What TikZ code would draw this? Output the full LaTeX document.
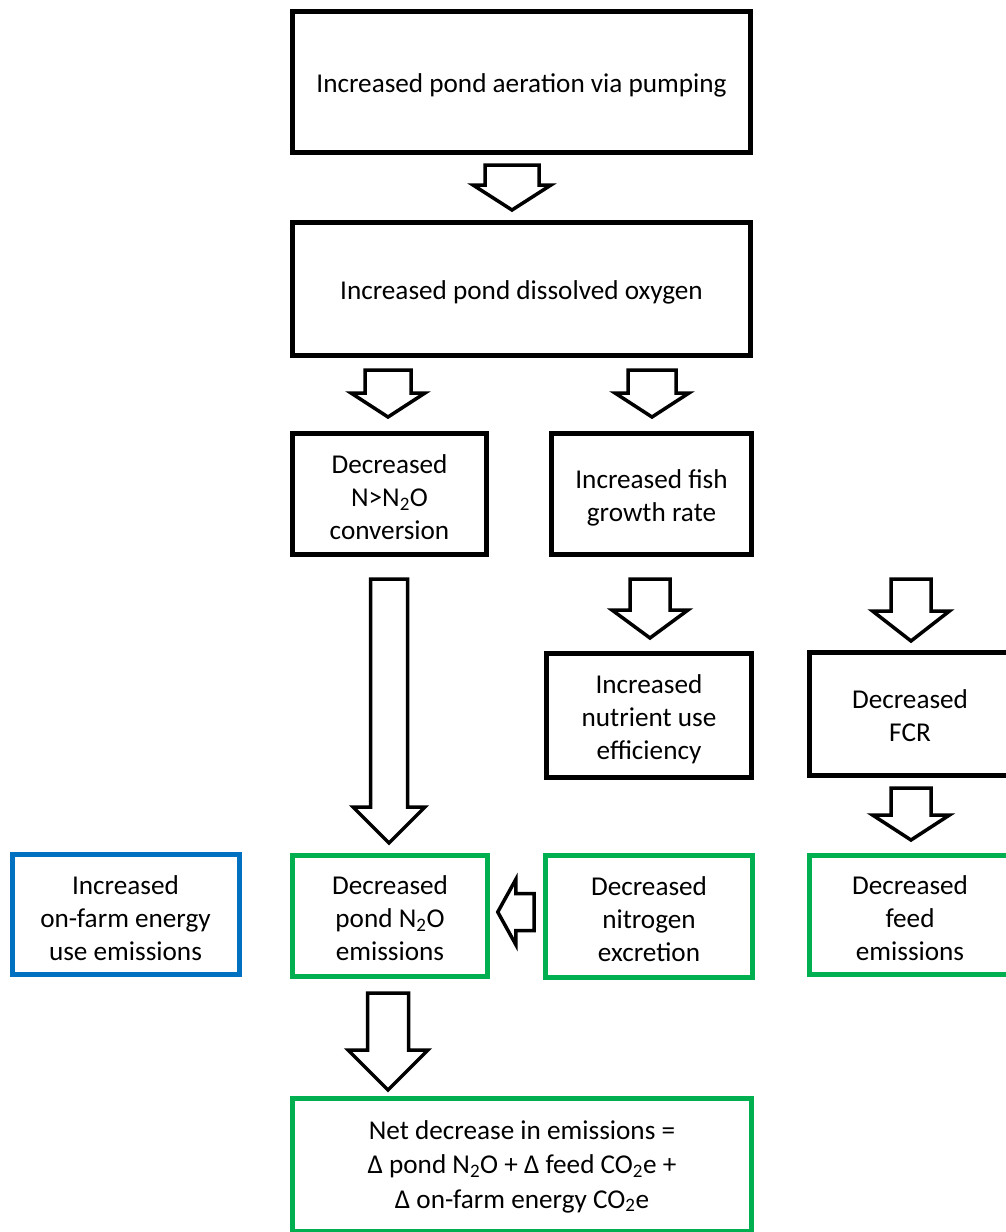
\documentclass[tikz,border=0pt]{standalone}
\usepackage{fontspec}
\setmainfont{Carlito}
\usetikzlibrary{calc}
\definecolor{boxgreen}{HTML}{00B050}
\definecolor{boxblue}{HTML}{0070C0}

% hollow block arrow pointing down: top of stem, tip, stem half-width, head half-width, head length
\newcommand\downblock[5]{%
  \draw[blockarrow] ($(#1)+(-#3,0)$) -- ($(#2)+(-#3,-#5)$) -- ($(#2)+(-#4,-#5)$) -- (#2)
    -- ($(#2)+(#4,-#5)$) -- ($(#2)+(#3,-#5)$) -- ($(#1)+(#3,0)$) -- cycle;}
% hollow block arrow pointing left: end of stem, tip, stem half-width, head half-width, head length
\newcommand\leftblock[5]{%
  \draw[blockarrow] ($(#1)+(0,-#3)$) -- ($(#2)+(#5,-#3)$) -- ($(#2)+(#5,-#4)$) -- (#2)
    -- ($(#2)+(#5,#4)$) -- ($(#2)+(#5,#3)$) -- ($(#1)+(0,#3)$) -- cycle;}

\tikzset{
  flowbox/.style={rectangle, draw, line width=5pt, fill=white, inner sep=0pt},
  blackbox/.style={flowbox, draw=black},
  greenbox/.style={flowbox, draw=boxgreen},
  bluebox/.style={flowbox, draw=boxblue},
  boxtext/.style={align=center, inner sep=0pt, yshift=-3.5pt,
    font=\fontsize{27.2}{33}\selectfont},
  blockarrow/.style={draw=black, line width=3.5pt, fill=white, line join=miter},
}

\begin{document}
\begin{tikzpicture}[x=1pt, y=-1pt]
\useasboundingbox (0,0) rectangle (1006,1232);
\clip (0,0) rectangle (1006,1232);

% cause-and-effect boxes
\node[blackbox, minimum width=458, minimum height=141,
  label={[boxtext]center:{Increased pond aeration via pumping}}] (aeration) at (521.5,82) {};
\node[blackbox, minimum width=458, minimum height=133,
  label={[boxtext]center:{Increased pond dissolved oxygen}}] (oxygen) at (521.5,289) {};
\node[blackbox, minimum width=194, minimum height=120.5,
  label={[boxtext]center:{Decreased\\N>N\textsubscript{2}O\\conversion}}] (conversion) at (389.5,494) {};
\node[blackbox, minimum width=200, minimum height=120.5,
  label={[boxtext]center:{Increased fish\\growth rate}}] (growth) at (651.5,494) {};
\node[blackbox, minimum width=205, minimum height=124,
  label={[boxtext]center:{Increased\\nutrient use\\efficiency}}] (nue) at (649,715.5) {};
\node[blackbox, minimum width=202, minimum height=123,
  label={[boxtext, yshift=1.5pt]center:{Decreased\\FCR}}] (fcr) at (910,714) {};

% emission outcome boxes
\node[bluebox, minimum width=227, minimum height=120,
  label={[boxtext]center:{Increased\\on-farm energy\\use emissions}}] (energy) at (125.5,914.5) {};
\node[greenbox, minimum width=194.5, minimum height=121.5,
  label={[boxtext, yshift=1pt]center:{Decreased\\pond N\textsubscript{2}O\\emissions}}] (pondn2o) at (390,916) {};
\node[greenbox, minimum width=207, minimum height=122,
  label={[boxtext]center:{Decreased\\nitrogen\\excretion}}] (nitrogen) at (649,916) {};
\node[greenbox, minimum width=202, minimum height=119,
  label={[boxtext]center:{Decreased\\feed\\emissions}}] (feed) at (910,915) {};
\node[greenbox, minimum width=459, minimum height=133,
  label={[boxtext, yshift=2pt, font=\fontsize{27.2}{34.5}\selectfont]center:{Net decrease in emissions =\\
   Δ pond N\textsubscript{2}O + Δ feed CO\textsubscript{2}e +\\
   Δ on-farm energy CO\textsubscript{2}e}}] (net) at (522,1165) {};

% arrow end points
\coordinate (a1s) at (512,165);  \coordinate (a1t) at (512,210);
\coordinate (a2s) at (388,370);  \coordinate (a2t) at (388,417);
\coordinate (a3s) at (652,370);  \coordinate (a3t) at (652,417);
\coordinate (a4s) at (389,579);  \coordinate (a4t) at (389,843);
\coordinate (a5s) at (650,579);  \coordinate (a5t) at (650,638);
\coordinate (a6s) at (911,579);  \coordinate (a6t) at (911,641);
\coordinate (a7s) at (911,788);  \coordinate (a7t) at (911,840);
\coordinate (a8s) at (388,993);  \coordinate (a8t) at (388,1090);
\coordinate (a9s) at ($(nitrogen.west)+(-9,-4)$);
\coordinate (a9t) at ($(pondn2o.east)+(8,-4)$);

% block arrows between the boxes
\downblock{a1s}{a1t}{27}{39}{25}
\downblock{a2s}{a2t}{23}{37}{24}
\downblock{a3s}{a3t}{24}{37}{24}
\downblock{a4s}{a4t}{18.5}{36}{36}
\downblock{a5s}{a5t}{20}{38}{28}
\downblock{a6s}{a6t}{20}{38.5}{30}
\downblock{a7s}{a7t}{20}{38.5}{25}
\downblock{a8s}{a8t}{20.5}{40}{40}
\leftblock{a9s}{a9t}{18.5}{32.5}{18}
\end{tikzpicture}
\end{document}
